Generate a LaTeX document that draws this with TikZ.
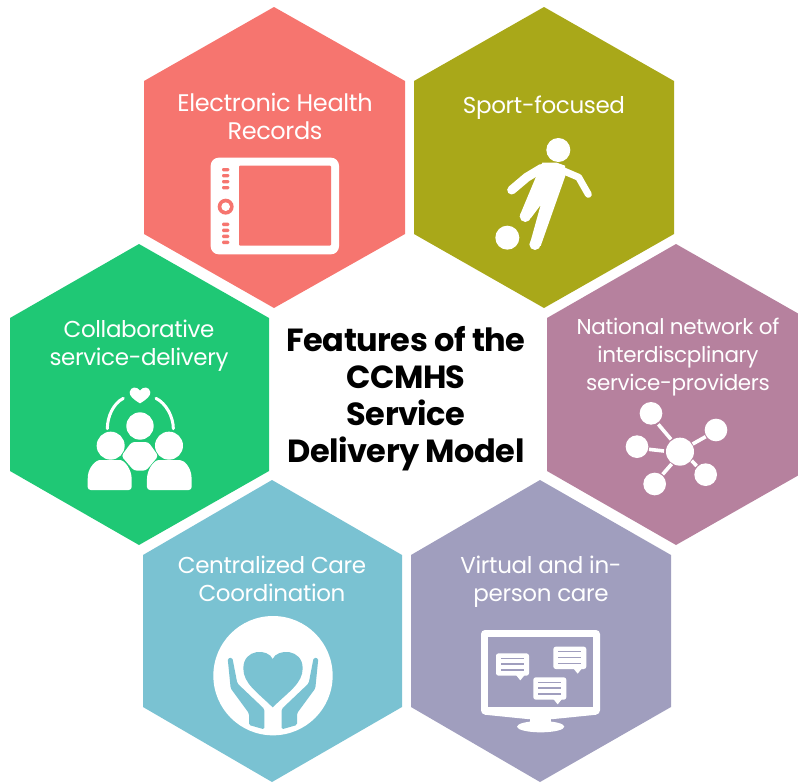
\documentclass[tikz,border=0pt]{standalone}
\usepackage{fontspec}
\setmainfont{Poppins}[LetterSpace=-1.5]
\definecolor{cred}{HTML}{F6756F}
\definecolor{colive}{HTML}{A9A819}
\definecolor{cgreen}{HTML}{1FC875}
\definecolor{cplum}{HTML}{B6819E}
\definecolor{cblue}{HTML}{7AC2D2}
\definecolor{clav}{HTML}{A09EBE}
\tikzset{
  lbl/.style={text=white,align=center,inner sep=0pt,font=\fontsize{23}{28}\selectfont},
  lblbig/.style={lbl,font=\fontsize{24}{28}\selectfont},
  lblsmall/.style={lbl,font=\fontsize{21.5}{28}\selectfont},
  ttl/.style={text=black,align=center,inner sep=0pt,font=\fontsize{32}{37}\selectfont\bfseries},
  wline/.style={draw=white,line cap=round,line join=round},
  zoomed/.style={shift={#1},scale=1/3}
}
\begin{document}
\begin{tikzpicture}[x=1pt,y=-1pt]
\useasboundingbox (0,0) rectangle (798,782);
% hexagons
\fill[cred] (274,7) -- (405,81) -- (405,234) -- (274,308) -- (144,234) -- (144,81) -- cycle;
\fill[colive] (544,7) -- (674,81) -- (674,234) -- (544,308) -- (414,234) -- (414,81) -- cycle;
\fill[cgreen] (139,244) -- (269,318) -- (269,471) -- (139,545) -- (10,471) -- (10,318) -- cycle;
\fill[cplum] (676,244) -- (806,318) -- (806,471) -- (676,545) -- (547,471) -- (547,318) -- cycle;
\fill[cblue] (272,480) -- (402,555) -- (402,707) -- (272,782) -- (143,707) -- (143,555) -- cycle;
\fill[clav] (540,480) -- (671,555) -- (671,707) -- (540,782) -- (411,707) -- (411,555) -- cycle;
% labels
\node[lblbig] (ehr) at (275,116) {Electronic Health\\Records};
\node[lbl] (sport) at (544,108) {Sport-focused};
\node[lbl] (collab) at (139,346) {Collaborative\\service-delivery};
\node[lblsmall] (natl) at (678,357) {National network of\\interdiscplinary\\service-providers};
\node[lbl] (central) at (272,579) {Centralized Care\\Coordination};
\node[lbl] (virt) at (541,582) {Virtual and in-\\person care};
\node[ttl] (title) at (406,399) {Features of the\\CCMHS\\Service\\Delivery Model};
% tablet
\begin{scope}[zoomed={(140,0)}]
  \fill[white,rounded corners=8pt] (212,473) rectangle (597,763);
  \fill[cred,rounded corners=1pt] (297,497) rectangle (573,737);
  \foreach \yy in {509,527,545,563,673,691,709,727}
    \fill[cred,rounded corners=1.2pt] (246,\yy-5) rectangle (268,\yy+5);
  \fill[cred] (257,620) circle (24);
  \fill[white] (257,620) circle (13);
\end{scope}
% player
\begin{scope}[zoomed={(410,0)}]
  \fill[white] (445,450) circle (36);
  \fill[white] (292,713) circle (36);
  \draw[wline,line width=9pt] (305,570) -- (350,532) -- (395,505);
  \draw[wline,line width=7pt] (450,508) -- (506,532) -- (535,583);
  \fill[white] (397,488) -- (440,488) -- (465,497) -- (467,525) -- (392,738) -- (360,730) -- (392,615) -- (362,655) -- (330,645) -- (378,530) -- cycle;
  \fill[white] (375,733) circle (17);
  \fill[white] (346,649) circle (17);
\end{scope}
% people
\begin{scope}[zoomed={(0,240)}]
  \fill[white] (420,490) .. controls (400,478) and (388,468) .. (389,456) .. controls (391,440) and (412,438) .. (420,452) .. controls (428,438) and (449,440) .. (451,456) .. controls (452,468) and (440,478) .. (420,490) -- cycle;
  \draw[wline,line width=3pt] (370,475) .. controls (340,490) and (322,530) .. (322,566);
  \draw[wline,line width=3pt] (468,475) .. controls (498,490) and (520,530) .. (520,566);
  \fill[white] (420,558) circle (41);
  \fill[white] (332,617) circle (42);
  \fill[white] (507,617) circle (42);
  \fill[white,rounded corners=3pt] (395,606) -- (445,606) -- (475,648) -- (438,692) -- (402,692) -- (364,648) -- cycle;
  \fill[white,rounded corners=3pt] (263,750) -- (263,715) .. controls (266,685) and (285,660) .. (310,660) -- (350,660) .. controls (375,660) and (395,690) .. (395,725) -- (395,750) -- cycle;
  \fill[white,rounded corners=3pt] (441,750) -- (441,725) .. controls (441,690) and (461,660) .. (486,660) -- (530,660) .. controls (555,660) and (572,685) .. (575,715) -- (575,750) -- cycle;
\end{scope}
% network
\begin{scope}[zoomed={(540,240)}]
  \foreach \ax/\ay/\bx/\by in {355/553/393/598,497/590/458/612,327/628/372/633,395/672/368/703,455/662/470/678}
    \draw[white,line width=3.6pt] (\ax,\ay) -- (\bx,\by);
  \fill[white] (420,635) circle (42);
  \foreach \cx/\cy in {333/520,528/570,291/620,497/704,344/732}
    \fill[white] (\cx,\cy) circle (34);
\end{scope}
% care
\begin{scope}[zoomed={(140,475)}]
  \fill[white] (399,602) circle (179);
  \fill[cblue] (398,697) .. controls (350,650) and (310,625) .. (310,580) .. controls (310,520) and (385,520) .. (398,552) .. controls (411,520) and (488,520) .. (488,580) .. controls (488,625) and (446,650) .. (398,697) -- cycle;
  \fill[cblue,rounded corners=1.5pt] (263,550) -- (277,548) -- (292,625) -- (373,702) -- (373,763) -- (327,750) -- (327,715) -- (272,640) -- cycle;
  \fill[cblue,rounded corners=1.5pt] (535,550) -- (521,548) -- (506,625) -- (425,702) -- (425,763) -- (471,750) -- (471,715) -- (526,640) -- cycle;
\end{scope}
% monitor
\begin{scope}[zoomed={(405,475)}]
  \fill[white,rounded corners=4pt] (228,465) -- (585,465) -- (585,718) -- (437,733) -- (376,733) -- (228,718) -- cycle;
  \fill[white] (376,725) rectangle (437,750);
  \fill[white] (407,755) ellipse (71 and 17);
  \fill[clav] (250,487) rectangle (563,695);
  \foreach \bx/\by in {273/535,445/515,385/607}{
    \fill[white,rounded corners=2.5pt] (\bx,\by) rectangle (\bx+99,\by+67);
    \fill[white] (\bx+60,\by+65) -- (\bx+86,\by+65) -- (\bx+73,\by+81) -- cycle;
    \foreach \dy in {15,32,50}
      \draw[clav,line width=1.4pt] (\bx+15,\by+\dy) -- (\bx+84,\by+\dy);
  }
\end{scope}
\end{tikzpicture}
\end{document}
